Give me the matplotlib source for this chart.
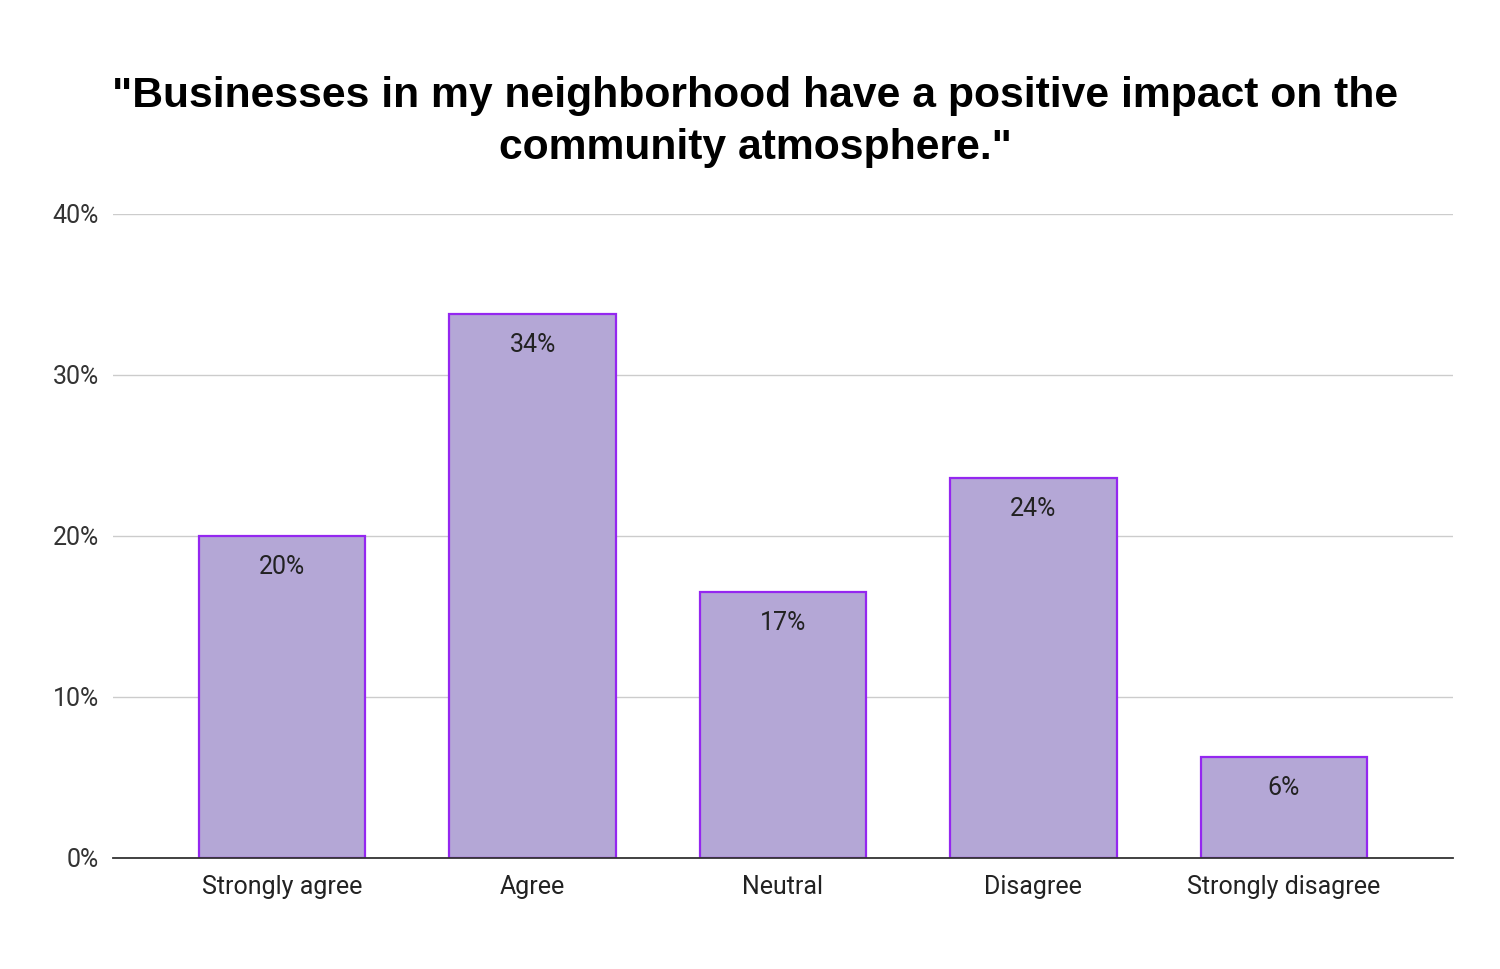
import matplotlib
matplotlib.use("Agg")
import matplotlib.pyplot as plt

categories = ["Strongly agree", "Agree", "Neutral", "Disagree", "Strongly disagree"]
values = [20.0, 33.8, 16.5, 23.6, 6.3]
labels = ["20%", "34%", "17%", "24%", "6%"]
yticks = [0, 10, 20, 30, 40]
ytick_labels = ["0%", "10%", "20%", "30%", "40%"]
title = "\"Businesses in my neighborhood have a positive impact on the\ncommunity atmosphere.\""

fig = plt.figure(figsize=(15, 9.69), dpi=100)
ax = fig.add_axes([0.0753, 0.1146, 0.8934, 0.6646])

x = list(range(len(categories)))
ax.bar(x, values, width=0.664, color="#b4a7d6", edgecolor="#9427f0", linewidth=1.6, zorder=3)

for xi, v, lab in zip(x, values, labels):
    ax.annotate(lab, (xi, v), xytext=(0, -31), textcoords="offset pixels",
                ha="center", va="center", fontsize=18, color="#222222", family="Roboto", zorder=4)

ax.set_xlim(-0.676, 4.676)
ax.set_ylim(0, 40)
ax.set_yticks(yticks)
ax.set_yticklabels(ytick_labels, family="Roboto", fontsize=18, color="#333333")
ax.set_xticks(x)
ax.set_xticklabels(categories, family="Roboto", fontsize=18, color="#222222")
ax.tick_params(axis="both", length=0)
ax.tick_params(axis="y", pad=10)
ax.tick_params(axis="x", pad=12)
ax.grid(axis="y", color="#cccccc", linewidth=1, zorder=0)
for s in ["top", "right", "left"]:
    ax.spines[s].set_visible(False)
ax.spines["bottom"].set_color("#333333")
ax.spines["bottom"].set_linewidth(1.3)
ax.spines["bottom"].set_zorder(5)

fig.text(0.5035, 0.874, title, ha="center", va="center", fontsize=30.7, fontweight="bold",
         family="Liberation Sans", color="#000000", linespacing=1.4)

fig.savefig("out.png", dpi=100, facecolor="white")
